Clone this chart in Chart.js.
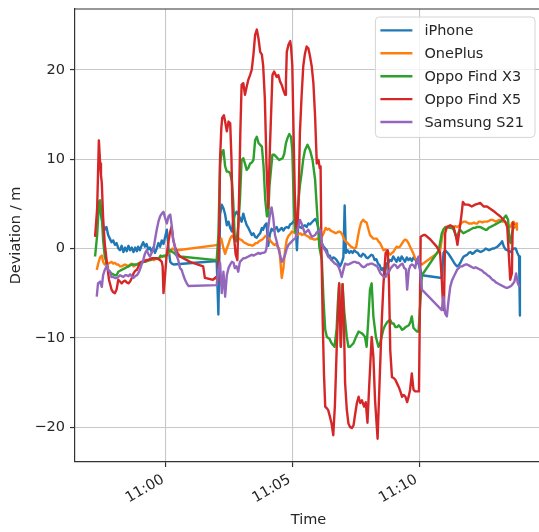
<!DOCTYPE html>
<html><head><meta charset="utf-8">
<script src="https://cdn.jsdelivr.net/npm/chart.js@4.4.0/dist/chart.umd.min.js"></script>
<style>
html,body{margin:0;padding:0;background:#fff;overflow:hidden;}
#wrap{width:539px;height:532px;overflow:hidden;position:relative;background:#fff;}
canvas{display:block;}
</style></head><body>
<div id="wrap"><canvas id="c" width="548" height="532"></canvas></div>
<script>
// time values are seconds after this start time
const startTime = "10:57:00";
const xTicks = [180, 480, 780];
const xTickLabels = ["11:00", "11:05", "11:10"];
const yTicks = [-20, -10, 0, 10, 20];
const yTickLabels = ["\u221220", "\u221210", "0", "10", "20"];
const seriesNames = ["iPhone", "OnePlus", "Oppo Find X3", "Oppo Find X5", "Samsung S21"];
const seriesColors = ["#1f77b4", "#ff7f0e", "#2ca02c", "#d62728", "#9467bd"];

// [seconds after startTime, deviation in m]
const iPhone = [[17,3.0],[20,4.2],[22,4.8],[24,4.4],[28,3.2],[31,2.5],[35,2.1],[39,2.4],[43,1.5],[47,1.1],[51,0.7],[55,0.9],[59,0.4],[63,0.6],[67,0.0],[71,-0.2],[75,0.3],[79,-0.4],[83,0.1],[87,-0.3],[91,0.3],[95,-0.2],[99,0.1],[103,-0.4],[107,0.1],[111,-0.3],[114,0.2],[118,-0.2],[122,0.3],[126,0.7],[130,0.2],[134,0.5],[138,-0.1],[142,0.1],[146,-0.4],[150,0.1],[154,-0.5],[158,0.0],[162,0.6],[166,0.2],[170,0.9],[174,0.5],[178,1.3],[182,2.1],[186,0.0],[190,-1.5],[194,-1.7],[198,-1.8],[300,-1.4],[304,-7.4],[308,3.8],[312,4.9],[316,4.5],[320,3.8],[324,2.6],[328,3.0],[332,2.3],[336,1.9],[339,3.0],[343,3.8],[347,4.1],[351,3.8],[355,3.4],[359,3.0],[363,3.9],[367,3.2],[371,2.6],[375,2.3],[379,1.9],[383,1.5],[387,1.7],[391,1.3],[395,1.2],[399,1.5],[403,1.7],[407,2.3],[410,2.1],[414,2.6],[418,2.8],[422,0.3],[426,1.6],[430,2.2],[434,2.0],[438,2.2],[442,2.4],[446,1.9],[450,2.1],[454,2.3],[458,2.0],[462,2.3],[466,2.4],[470,2.3],[474,2.7],[478,2.8],[482,3.0],[486,3.3],[490,-0.2],[493,2.6],[497,2.4],[501,2.3],[505,2.5],[509,2.6],[513,2.4],[517,2.8],[521,2.7],[525,2.9],[529,3.1],[533,3.3],[537,3.0],[541,2.2],[545,1.3],[549,0.6],[553,0.2],[557,0.0],[561,-0.2],[564,-0.9],[568,-0.8],[572,-1.3],[576,-1.0],[580,-1.1],[584,-1.3],[588,-1.6],[592,-2.0],[596,-1.6],[600,-1.0],[603,4.8],[606,-0.5],[610,-0.2],[614,-0.5],[618,-0.3],[622,-0.5],[626,-0.2],[630,-0.4],[634,-0.5],[638,-0.8],[642,-0.9],[646,-0.6],[650,-0.7],[654,-1.0],[658,-1.1],[662,-0.9],[666,-0.7],[670,-0.8],[674,-1.3],[678,-1.2],[682,-1.7],[686,-1.9],[690,-2.4],[694,-2.2],[698,-3.0],[702,-1.7],[706,-1.6],[710,-1.3],[714,-1.4],[718,-0.9],[722,-1.2],[726,-1.5],[730,-1.0],[734,-1.4],[738,-0.9],[742,-1.2],[746,-1.5],[750,-1.0],[754,-1.3],[758,-1.1],[762,-1.4],[766,-1.0],[770,-1.2],[774,-1.6],[778,-1.7],[786,-3.0],[833,-3.3],[837,-0.5],[841,-0.2],[845,-0.4],[849,-0.6],[853,-0.9],[857,-1.2],[861,-1.5],[865,-1.8],[869,-2.0],[873,-1.9],[877,-1.6],[881,-1.2],[885,-0.9],[889,-0.8],[893,-0.7],[897,-0.5],[901,-0.4],[905,-0.6],[909,-0.5],[913,-0.3],[917,-0.2],[921,-0.3],[925,-0.4],[929,-0.3],[933,-0.2],[937,0.0],[941,-0.1],[945,-0.2],[949,-0.1],[953,0.0],[957,0.0],[961,0.1],[965,0.2],[969,0.4],[973,0.6],[976,0.8],[980,0.2],[984,-0.1],[988,-0.2],[992,-0.3],[996,-0.4],[1000,-0.1],[1004,0.0],[1008,0.0],[1012,-0.5],[1016,-0.9],[1018,-7.5]];

const onePlus = [[16,-2.4],[20,-1.6],[24,-1.0],[28,-0.8],[31,-1.5],[35,-1.8],[40,-1.6],[43,-1.7],[47,-1.6],[51,-1.5],[55,-1.7],[59,-1.6],[63,-1.8],[67,-1.8],[71,-2.0],[75,-2.0],[79,-1.9],[83,-1.8],[87,-1.9],[91,-2.0],[95,-1.8],[99,-1.7],[103,-2.0],[107,-1.9],[111,-1.8],[115,-1.7],[119,-1.6],[123,-1.5],[127,-1.5],[131,-1.3],[135,-1.4],[139,-1.3],[143,-1.3],[147,-1.2],[151,-1.3],[155,-1.2],[159,-1.1],[163,-1.1],[167,-1.0],[171,-0.9],[175,-0.9],[179,-0.8],[183,-0.7],[187,-0.5],[191,-0.3],[195,0.0],[199,-0.1],[203,-0.3],[207,-0.2],[304,0.4],[308,1.0],[311,1.1],[316,0.0],[320,-0.6],[324,0.0],[328,0.5],[332,1.1],[336,1.4],[340,1.2],[344,1.1],[348,1.3],[352,1.1],[356,1.0],[360,0.9],[364,0.7],[368,0.6],[372,0.5],[376,0.4],[380,0.4],[384,0.3],[388,0.4],[392,0.6],[396,0.6],[400,0.8],[404,0.9],[408,1.0],[412,1.2],[416,1.4],[420,1.3],[424,1.1],[428,0.8],[432,0.6],[436,0.4],[440,0.5],[444,0.2],[448,0.0],[451,-1.5],[454,-3.3],[458,-2.2],[462,-0.2],[466,1.0],[470,1.4],[474,1.6],[478,1.9],[482,1.8],[486,1.7],[490,1.5],[494,1.6],[498,1.7],[502,1.5],[506,1.6],[510,1.5],[514,1.4],[518,1.3],[522,1.1],[526,1.1],[530,1.0],[534,1.0],[538,1.1],[542,1.0],[546,1.1],[550,1.4],[554,1.8],[558,2.3],[562,2.1],[566,2.2],[570,2.0],[574,1.9],[578,1.8],[582,1.7],[586,1.8],[590,1.9],[594,1.8],[598,1.5],[602,1.0],[606,0.8],[610,0.6],[614,0.4],[618,0.2],[622,0.1],[626,0.0],[630,0.1],[634,1.2],[638,2.2],[642,2.9],[647,3.2],[651,3.0],[655,2.9],[659,2.2],[663,1.5],[667,1.3],[671,1.1],[675,1.1],[679,1.1],[683,0.8],[687,0.6],[691,0.2],[695,-0.2],[699,-0.1],[703,-0.2],[707,-0.5],[711,-0.7],[715,-0.5],[718,-0.4],[722,-0.1],[726,0.2],[730,0.1],[734,0.2],[738,0.5],[742,0.8],[746,1.0],[750,0.9],[754,0.6],[758,0.2],[762,-0.2],[766,-0.6],[770,-1.1],[774,-1.3],[778,-1.5],[786,-1.8],[829,-0.3],[833,1.0],[837,2.1],[841,2.4],[845,2.4],[849,2.3],[853,2.3],[857,2.4],[861,2.4],[865,2.5],[869,2.4],[873,2.5],[877,2.7],[881,2.9],[885,3.0],[889,3.0],[893,2.9],[897,2.8],[901,2.8],[905,2.8],[909,2.9],[913,2.8],[917,2.8],[921,3.0],[925,3.0],[929,2.9],[933,3.0],[937,3.0],[941,3.0],[945,3.1],[949,3.2],[953,3.2],[957,3.1],[961,3.0],[965,3.1],[969,3.2],[973,3.1],[977,3.0],[981,3.0],[985,2.9],[989,2.7],[993,2.5],[996,2.4],[999,2.8],[1003,3.0],[1006,2.4],[1009,2.8],[1011,2.1]];

const oppoX3 = [[12,-0.9],[17,1.5],[20,4.0],[21,5.2],[24,5.4],[28,3.6],[31,1.0],[35,-0.9],[40,-1.8],[43,-2.4],[47,-2.6],[51,-2.8],[55,-2.9],[59,-3.0],[63,-3.0],[67,-2.6],[71,-2.5],[75,-2.4],[79,-2.3],[83,-2.2],[87,-2.1],[91,-2.0],[95,-1.9],[99,-1.8],[103,-1.8],[107,-1.8],[111,-1.8],[115,-1.7],[119,-1.7],[123,-1.6],[127,-1.5],[131,-1.5],[135,-1.4],[139,-1.3],[143,-1.3],[147,-1.2],[151,-1.1],[155,-1.1],[159,-1.1],[163,-1.1],[167,-0.8],[171,-0.9],[175,-0.8],[179,-0.9],[183,-0.6],[187,-0.3],[191,-0.2],[195,-0.4],[199,-0.5],[203,-0.7],[207,-0.8],[213,-0.9],[300,-1.3],[304,1.5],[308,9.4],[312,10.8],[316,11.0],[320,9.2],[324,8.6],[328,8.6],[332,8.4],[336,7.5],[339,5.4],[343,1.0],[347,0.8],[351,2.5],[355,5.4],[359,9.9],[363,10.1],[367,9.5],[371,8.8],[375,9.0],[379,9.5],[383,9.6],[387,9.9],[391,12.1],[395,12.5],[399,11.8],[403,11.6],[407,11.4],[411,9.2],[415,5.4],[419,3.6],[422,3.6],[425,7.0],[428,8.5],[432,10.5],[436,10.5],[440,10.3],[444,10.1],[448,9.9],[452,10.0],[456,10.1],[460,10.6],[464,11.8],[468,12.4],[472,12.8],[476,12.5],[479,11.0],[482,6.0],[485,2.0],[488,1.7],[491,3.5],[494,5.5],[497,7.0],[501,8.4],[505,10.0],[509,11.0],[515,11.6],[521,11.0],[527,9.9],[533,7.7],[538,3.9],[543,0.2],[549,-1.3],[553,-5.8],[557,-9.1],[561,-9.9],[567,-10.1],[572,-10.6],[579,-11.0],[584,-9.0],[587,-6.0],[590,-4.0],[594,-11.0],[598,-4.0],[602,-7.0],[608,-9.9],[612,-11.0],[616,-11.0],[620,-10.8],[624,-10.6],[630,-9.9],[636,-9.3],[640,-9.4],[644,-9.5],[648,-9.7],[651,-9.9],[655,-11.0],[659,-8.0],[663,-4.6],[667,-3.9],[671,-7.6],[677,-9.9],[683,-11.0],[687,-10.6],[691,-9.8],[695,-9.0],[699,-8.6],[703,-8.3],[707,-8.1],[711,-8.0],[715,-8.4],[719,-8.4],[723,-8.8],[727,-8.8],[731,-8.6],[735,-8.8],[739,-9.1],[743,-9.0],[747,-8.8],[751,-8.7],[755,-8.6],[759,-8.2],[762,-7.6],[766,-8.9],[770,-9.1],[774,-9.3],[778,-9.3],[786,-3.0],[826,-0.2],[833,1.7],[837,2.1],[841,2.3],[845,2.4],[849,2.4],[853,2.3],[857,2.3],[861,2.1],[865,1.6],[869,1.0],[873,1.8],[876,2.1],[880,1.9],[884,1.7],[888,1.8],[892,1.9],[896,2.0],[900,2.1],[904,2.2],[908,2.3],[912,2.3],[916,2.4],[920,2.4],[924,2.4],[928,2.3],[932,2.2],[936,2.1],[940,2.1],[944,2.3],[948,2.4],[952,2.5],[956,2.6],[960,2.7],[964,2.8],[968,2.9],[972,3.0],[976,3.2],[980,3.4],[985,3.7],[988,3.4],[990,3.2],[993,1.0],[996,0.6],[999,1.6],[1001,2.1],[1004,2.4]];

const oppoX5 = [[12,1.3],[17,4.5],[21,12.1],[24,9.5],[26,8.2],[28,7.3],[31,3.5],[35,0.5],[40,-1.6],[45,-3.5],[51,-4.6],[55,-4.9],[59,-5.0],[63,-4.6],[67,-3.5],[71,-3.7],[75,-3.9],[79,-3.7],[83,-3.6],[87,-3.8],[91,-3.9],[95,-3.7],[99,-3.3],[103,-2.8],[107,-2.5],[111,-2.4],[115,-2.0],[118,-1.6],[122,-1.5],[126,-1.5],[130,-1.4],[134,-1.3],[138,-1.3],[142,-1.2],[146,-1.1],[150,-1.1],[154,-1.1],[158,-1.1],[162,-1.2],[166,-1.3],[170,-1.5],[172,-2.0],[174,-5.0],[177,-3.5],[181,-1.0],[185,0.5],[189,1.7],[193,2.4],[197,1.0],[201,0.2],[207,-0.5],[213,-0.9],[225,-1.2],[237,-1.5],[268,-2.0],[272,-3.3],[291,-3.5],[299,-3.2],[303,-3.7],[306,2.0],[308,10.1],[311,13.5],[313,14.6],[317,14.9],[320,14.2],[324,13.1],[328,14.2],[332,14.0],[335,10.0],[337,5.0],[339,2.3],[345,-0.7],[349,-1.3],[353,5.7],[356,13.0],[359,18.3],[363,18.5],[367,17.2],[371,18.1],[375,18.9],[379,19.4],[383,20.0],[387,21.7],[391,23.9],[395,24.5],[399,23.5],[403,22.0],[407,21.7],[410,20.5],[414,16.8],[418,9.3],[422,4.5],[426,11.2],[432,19.4],[436,19.8],[442,19.2],[446,19.4],[450,18.7],[454,18.3],[458,17.7],[462,17.2],[464,18.7],[466,22.0],[470,22.8],[474,23.2],[476,22.6],[479,20.5],[482,13.0],[485,6.0],[488,2.6],[491,1.8],[494,5.5],[497,12.9],[501,17.0],[505,20.4],[509,21.8],[513,22.6],[517,22.4],[521,21.5],[525,20.4],[529,18.5],[533,14.8],[537,9.5],[541,9.9],[544,9.0],[546,9.2],[548,0.0],[551,-8.0],[554,-14.0],[557,-17.7],[561,-17.9],[564,-18.1],[568,-18.8],[572,-19.6],[576,-20.9],[580,-17.5],[584,-11.4],[590,-3.9],[594,-11.0],[598,-4.0],[601,-7.6],[604,-15.0],[608,-18.0],[612,-19.6],[616,-20.0],[620,-20.1],[624,-19.8],[628,-18.5],[632,-17.3],[636,-16.6],[640,-17.3],[644,-17.0],[649,-17.7],[653,-17.2],[657,-19.5],[661,-15.5],[667,-9.9],[671,-12.1],[675,-17.0],[681,-21.3],[687,-13.2],[691,-8.0],[695,-3.9],[700,-0.5],[705,-0.2],[708,-3.9],[711,-11.4],[715,-14.4],[719,-14.5],[723,-14.7],[727,-15.1],[731,-15.5],[735,-16.0],[739,-16.6],[743,-16.4],[747,-16.6],[751,-17.2],[755,-16.5],[758,-15.8],[762,-14.0],[766,-15.8],[770,-16.0],[774,-16.0],[779,-16.0],[783,1.3],[790,1.5],[794,1.5],[806,1.0],[821,0.2],[829,-0.5],[833,-3.5],[836,-6.5],[838,-6.9],[841,1.7],[845,2.4],[853,2.6],[861,2.4],[867,1.3],[870,0.4],[875,2.1],[880,3.9],[883,5.2],[888,4.9],[896,4.9],[904,4.7],[912,4.9],[918,5.0],[924,5.1],[932,4.7],[940,4.7],[946,4.5],[952,4.3],[958,4.1],[963,3.9],[971,3.6],[977,3.3],[983,3.0],[988,2.4],[992,-0.9],[995,-3.5],[999,-2.8],[1001,2.9],[1004,2.6]];

const samsungS21 = [[16,-5.4],[19,-3.9],[22,-3.8],[24,-3.7],[28,-4.3],[31,-3.0],[35,-2.4],[40,-1.9],[43,-2.4],[47,-2.6],[51,-3.2],[55,-3.2],[59,-3.3],[63,-3.3],[67,-3.2],[71,-3.0],[75,-3.1],[79,-3.2],[83,-3.0],[87,-3.0],[91,-3.1],[95,-2.9],[99,-3.1],[103,-3.3],[107,-3.1],[111,-3.0],[114,-2.8],[118,-2.4],[122,-1.8],[126,-1.3],[130,-0.6],[134,-0.2],[138,-0.6],[142,-0.9],[146,-0.5],[150,-0.2],[154,1.0],[158,2.1],[162,3.0],[166,3.6],[170,3.9],[174,4.1],[178,3.4],[182,2.8],[186,3.6],[190,3.8],[194,2.4],[197,1.0],[201,0.2],[205,-0.8],[209,-1.3],[213,-2.2],[217,-2.4],[221,-3.0],[225,-3.5],[229,-3.9],[233,-4.2],[300,-4.1],[304,-2.4],[308,-1.6],[312,-5.0],[316,-2.6],[320,-5.4],[324,-3.0],[328,-2.2],[332,-1.8],[336,-1.5],[340,-1.6],[343,-2.2],[347,-2.0],[351,-2.6],[355,-1.5],[359,-1.3],[363,-1.1],[367,-1.1],[371,-1.0],[375,-0.9],[379,-0.8],[383,-0.7],[387,-0.8],[391,-0.7],[395,-0.6],[399,-0.5],[403,-0.6],[407,-0.5],[411,-0.5],[415,-0.4],[418,0.0],[422,2.3],[426,3.8],[430,4.6],[434,3.4],[438,1.5],[442,0.8],[446,0.0],[450,-0.7],[454,-1.5],[458,-1.2],[462,-0.7],[466,0.0],[470,0.4],[474,0.6],[478,0.8],[482,1.0],[486,1.1],[490,1.7],[494,2.6],[497,3.2],[501,2.8],[505,2.2],[509,1.7],[513,1.9],[517,2.1],[521,1.7],[525,1.3],[529,1.4],[533,1.5],[537,1.8],[541,1.9],[545,2.1],[549,0.6],[553,0.0],[557,-0.2],[561,-0.6],[564,-0.9],[568,-1.1],[572,-1.3],[576,-1.5],[580,-1.7],[584,-1.8],[588,-2.0],[592,-2.5],[596,-3.2],[600,-2.4],[604,-1.7],[608,-1.8],[612,-1.8],[616,-1.7],[620,-1.6],[624,-1.5],[628,-1.5],[632,-1.6],[636,-1.6],[640,-1.8],[644,-2.0],[648,-2.1],[652,-2.0],[656,-1.8],[660,-1.8],[664,-1.7],[668,-1.7],[672,-1.8],[676,-1.9],[680,-2.0],[684,-2.4],[688,-2.8],[692,-3.0],[696,-3.2],[700,-3.2],[704,-2.8],[708,-2.6],[712,-2.2],[716,-2.0],[720,-1.8],[724,-1.9],[728,-2.2],[732,-2.0],[736,-1.8],[740,-1.7],[744,-2.2],[748,-2.3],[751,-4.6],[755,-2.4],[759,-1.9],[762,-1.8],[766,-1.9],[770,-2.2],[774,-1.3],[778,-0.9],[786,-4.6],[833,-6.9],[837,-5.4],[841,-7.3],[845,-7.6],[849,-5.8],[853,-4.3],[857,-3.6],[861,-3.2],[865,-2.8],[869,-2.4],[873,-2.2],[877,-2.0],[881,-2.0],[885,-1.9],[889,-1.8],[893,-1.8],[897,-1.9],[901,-2.0],[905,-2.1],[909,-2.2],[913,-2.1],[917,-2.2],[921,-2.3],[925,-2.4],[929,-2.5],[933,-2.7],[937,-2.8],[941,-3.0],[945,-3.1],[949,-3.3],[953,-3.5],[957,-3.6],[961,-3.8],[965,-3.9],[969,-4.0],[973,-4.1],[977,-4.2],[981,-4.3],[985,-4.4],[989,-4.4],[993,-4.3],[997,-4.2],[1001,-4.0],[1005,-3.7],[1009,-2.8],[1013,-3.9],[1017,-4.3]];

const allSeries = [iPhone, onePlus, oppoX3, oppoX5, samsungS21];

const FONT_FAMILY = "'DejaVu Sans', sans-serif";
const FONT_SIZE = 14.5;
const TEXT_COLOR = '#262626';
const FONT = {family: FONT_FAMILY, size: FONT_SIZE};

const framePlugin = {
  id: 'frame',
  afterDraw(chart) {
    const {ctx, chartArea: a} = chart;
    ctx.save();
    ctx.strokeStyle = '#333';
    ctx.lineWidth = 1.2;
    ctx.beginPath();
    ctx.moveTo(a.left, a.top); ctx.lineTo(a.right, a.top); ctx.lineTo(a.right, a.bottom);
    ctx.stroke();
    ctx.restore();
  }
};

const legendPlugin = {
  id: 'mplLegend',
  afterDraw(chart) {
    const {ctx, chartArea: a} = chart;
    const ds = chart.data.datasets;
    ctx.save();
    ctx.font = FONT_SIZE + 'px ' + FONT_FAMILY;
    const maxW = Math.max(...ds.map(d => ctx.measureText(d.label).width));
    const right = a.right - 7;
    const top = a.top + 8;
    const textOff = 49;
    const w = textOff + maxW + 11;
    const left = right - w;
    const rowH = 22.9;
    const h = 13.4 + rowH * (ds.length - 1) + 15.4;
    const r = 4;
    ctx.beginPath();
    ctx.moveTo(left + r, top);
    ctx.lineTo(right - r, top); ctx.arcTo(right, top, right, top + r, r);
    ctx.lineTo(right, top + h - r); ctx.arcTo(right, top + h, right - r, top + h, r);
    ctx.lineTo(left + r, top + h); ctx.arcTo(left, top + h, left, top + h - r, r);
    ctx.lineTo(left, top + r); ctx.arcTo(left, top, left + r, top, r);
    ctx.closePath();
    ctx.fillStyle = 'rgba(255,255,255,0.8)';
    ctx.fill();
    ctx.strokeStyle = '#d4d4d4';
    ctx.lineWidth = 1;
    ctx.stroke();
    ds.forEach((d, i) => {
      const y = top + 13.4 + i * rowH;
      ctx.strokeStyle = d.borderColor;
      ctx.lineWidth = 2.4;
      ctx.beginPath(); ctx.moveTo(left + 5, y); ctx.lineTo(left + 37, y); ctx.stroke();
      ctx.fillStyle = TEXT_COLOR;
      ctx.textAlign = 'left';
      ctx.textBaseline = 'middle';
      ctx.fillText(d.label, left + textOff, y + 1);
    });
    ctx.restore();
  }
};

new Chart(document.getElementById('c').getContext('2d'), {
  type: 'line',
  data: {
    datasets: allSeries.map((s, i) => ({
      label: seriesNames[i],
      data: s.map(p => ({x: p[0], y: p[1]})),
      borderColor: seriesColors[i],
      backgroundColor: seriesColors[i],
      borderWidth: 2.4,
      pointRadius: 0,
      pointHoverRadius: 0,
      tension: 0,
      fill: false,
      borderJoinStyle: 'round',
      order: allSeries.length - i
    }))
  },
  options: {
    responsive: false,
    animation: false,
    devicePixelRatio: 1,
    events: [],
    layout: {padding: {left: 0, top: 9, right: 6, bottom: 0}},
    plugins: {legend: {display: false}, tooltip: {enabled: false}},
    scales: {
      x: {
        type: 'linear',
        min: -35.5,
        max: 1070.3,
        afterBuildTicks: s => { s.ticks = xTicks.map(v => ({value: v})); },
        afterFit: s => { s.height = 70; s.paddingLeft = 0; s.paddingRight = 0; },
        ticks: {
          callback: v => xTickLabels[xTicks.indexOf(v)],
          minRotation: 30, maxRotation: 30, autoSkip: false,
          labelOffset: -3,
          padding: 4, color: TEXT_COLOR, font: FONT
        },
        grid: {color: '#c8c8c8', lineWidth: 1.1, tickLength: 5, tickColor: '#333', tickWidth: 1.2},
        border: {color: '#333', width: 1.2},
        title: {display: true, text: 'Time', color: TEXT_COLOR, font: FONT, padding: {top: 4, bottom: 3}}
      },
      y: {
        type: 'linear',
        min: -23.9,
        max: 26.8,
        afterBuildTicks: s => { s.ticks = yTicks.map(v => ({value: v})); },
        afterFit: s => { s.width = 75; s.paddingTop = 0; s.paddingBottom = 0; },
        ticks: {
          callback: v => yTickLabels[yTicks.indexOf(v)],
          padding: 5, color: TEXT_COLOR, font: FONT
        },
        grid: {color: '#c8c8c8', lineWidth: 1.1, tickLength: 5, tickColor: '#333', tickWidth: 1.2},
        border: {color: '#333', width: 1.2},
        title: {display: true, text: 'Deviation / m', color: TEXT_COLOR, font: FONT, padding: {top: 8, bottom: 0}}
      }
    }
  },
  plugins: [framePlugin, legendPlugin]
});
</script>
</body></html>
